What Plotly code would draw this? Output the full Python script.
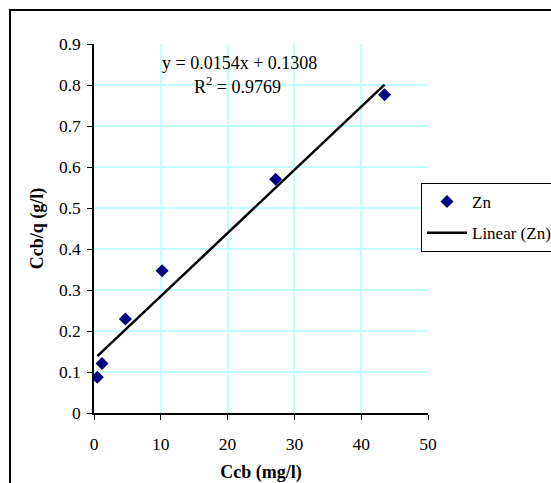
import plotly.graph_objects as go

ccb = [0.5, 1.2, 4.7, 10.2, 27.2, 43.5]
ccb_q = [0.087, 0.121, 0.229, 0.347, 0.570, 0.776]
slope = 0.0154
intercept = 0.1308
x_ticks = [0, 10, 20, 30, 40, 50]
y_ticks = [0, 0.1, 0.2, 0.3, 0.4, 0.5, 0.6, 0.7, 0.8, 0.9]
y_tick_labels = ["0", "0.1", "0.2", "0.3", "0.4", "0.5", "0.6", "0.7", "0.8", "0.9"]

FONT = "Liberation Serif, Times New Roman, serif"
W, H = 551, 483
L, R, T, B = 94, 123, 44, 70
pw, ph = W - L - R, H - T - B
GRID = "#c4ffff"

fig = go.Figure()
fig.add_trace(go.Scatter(
    x=ccb, y=ccb_q, mode="markers", name="Zn", legendgroup="pts",
    marker=dict(symbol="diamond", color="#000080", size=10),
))
tx = [min(ccb), max(ccb)]
ty = [slope * v + intercept for v in tx]
fig.add_trace(go.Scatter(
    x=tx, y=ty, mode="lines", name="Linear (Zn)", legendgroup="fit",
    line=dict(color="black", width=2.5),
))

def px2paper_x(p):
    return (p - L) / pw

def px2paper_y(p):
    return (H - B - p) / ph

fig.add_shape(type="rect", xref="paper", yref="paper",
              x0=px2paper_x(10), x1=px2paper_x(560),
              y0=px2paper_y(495), y1=px2paper_y(10),
              line=dict(color="black", width=2), fillcolor="rgba(0,0,0,0)", layer="below")

fig.add_annotation(xref="paper", yref="paper", x=px2paper_x(239), y=px2paper_y(63),
                   xanchor="center", yanchor="middle",
                   text=f"y = {slope}x + {intercept}", showarrow=False,
                   font=dict(family=FONT, size=18, color="black"))
fig.add_annotation(xref="paper", yref="paper", x=px2paper_x(237), y=px2paper_y(86),
                   xanchor="center", yanchor="middle",
                   text="R<sup>2</sup> = 0.9769", showarrow=False,
                   font=dict(family=FONT, size=18, color="black"))

fig.update_layout(
    width=W, height=H,
    margin=dict(l=L, r=R, t=T, b=B, autoexpand=False),
    paper_bgcolor="white", plot_bgcolor="white",
    font=dict(family=FONT, size=16, color="black"),
    showlegend=True,
    legend=dict(x=px2paper_x(421), y=px2paper_y(183), xanchor="left", yanchor="top",
                bordercolor="black", borderwidth=1, bgcolor="white",
                font=dict(family=FONT, size=17, color="black"),
                tracegroupgap=6, itemwidth=40),
    xaxis=dict(range=[0, 50], tickvals=x_ticks, ticks="outside", ticklen=5,
               tickcolor="black", showline=True, linecolor="black", linewidth=1.5,
               showgrid=True, gridcolor=GRID, gridwidth=1.5, zeroline=False,
               automargin=False,
               tickfont=dict(family=FONT, size=17.5), ticklabelstandoff=9,
               title=dict(text="<b>Ccb (mg/l)</b>", font=dict(family=FONT, size=18), standoff=14)),
    yaxis=dict(range=[0, 0.9], tickvals=y_ticks, ticktext=y_tick_labels, ticks="outside",
               ticklen=5, tickcolor="black", showline=True, linecolor="black", linewidth=1.5,
               showgrid=True, gridcolor=GRID, gridwidth=1.5, zeroline=False,
               automargin=False,
               tickfont=dict(family=FONT, size=17.5), ticklabelstandoff=3,
               title=dict(text="<b>Ccb/q (g/l)</b>", font=dict(family=FONT, size=18), standoff=11)),
)

fig.write_html("out.html")
